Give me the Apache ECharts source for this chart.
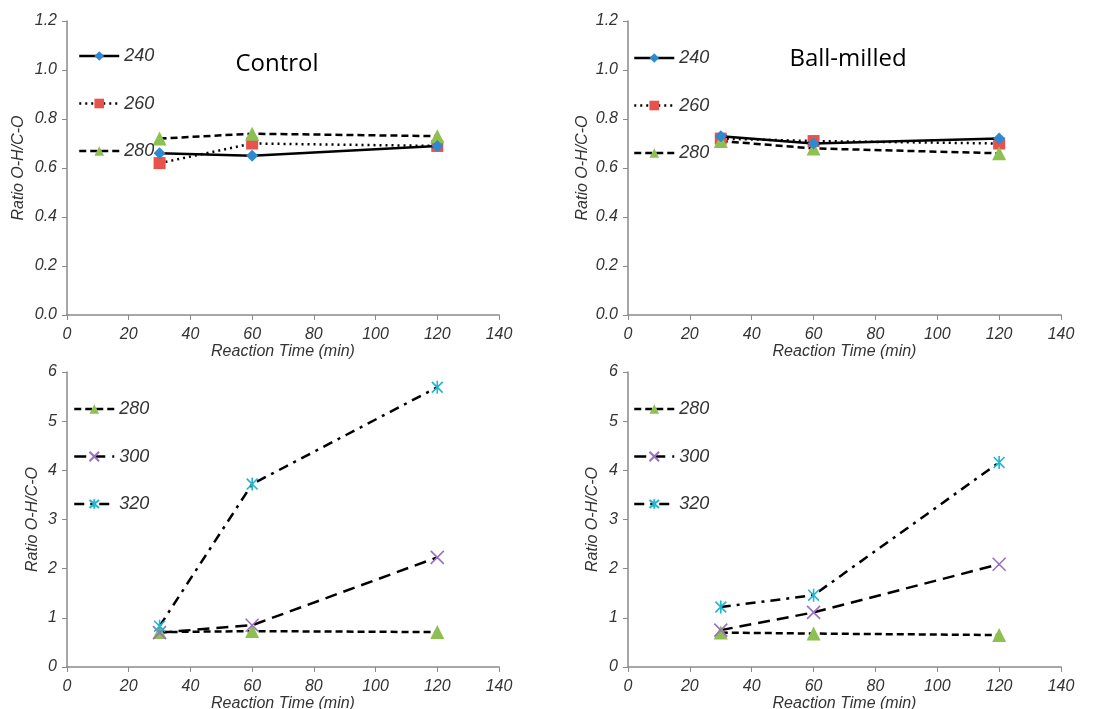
<!DOCTYPE html>
<html>
<head>
  <meta charset="utf-8">
  <title>Ratio O-H/C-O</title>
  <script src="https://cdn.jsdelivr.net/npm/echarts@6/dist/echarts.min.js"></script>
  <style>
    html, body { margin: 0; padding: 0; background: #fff; }
    #chart { width: 1114px; height: 709px; }
  </style>
</head>
<body>
<div id="chart"></div>
<script>
  // reaction times (min)
  var times = [30, 60, 120];

  // Control, top panel
  var control240 = [0.66, 0.65, 0.69];
  var control260 = [0.62, 0.70, 0.69];
  var control280 = [0.72, 0.74, 0.73];
  // Ball-milled, top panel
  var milled240 = [0.73, 0.70, 0.72];
  var milled260 = [0.72, 0.71, 0.70];
  var milled280 = [0.71, 0.68, 0.66];

  // Control, bottom panel
  var controlHi280 = [0.71, 0.73, 0.71];
  var controlHi300 = [0.70, 0.85, 2.23];
  var controlHi320 = [0.83, 3.72, 5.69];
  // Ball-milled, bottom panel
  var milledHi280 = [0.70, 0.68, 0.65];
  var milledHi300 = [0.75, 1.11, 2.09];
  var milledHi320 = [1.22, 1.46, 4.16];

  var panelTitles = ['Control', 'Ball-milled'];
  var topNames = ['240', '260', '280'];
  var bottomNames = ['280', '300', '320'];

  function pairs(vals) {
    return times.map(function (t, i) { return [t, vals[i]]; });
  }

  // series look (Excel style)
  var styles = {
    '240': { symbol: 'diamond', size: 12, color: '#2e8ad0', line: 'solid' },
    '260': { symbol: 'rect', size: 12, color: '#e8514c', line: [2, 4] },
    '280': { symbol: 'triangle', size: 14, color: '#8dc050', line: [7, 4] },
    '300': { symbol: 'path://M0,0L10,10M10,0L0,10', size: 13, color: '#9b6fc2', line: [12, 7] },
    '320': { symbol: 'path://M0,0L10,10M10,0L0,10M5,-1L5,11', size: 13, color: '#21b5d1', line: [10, 6, 3, 6] }
  };

  function mkSeries(name, vals, idx) {
    var s = styles[name];
    var open = s.symbol.indexOf('path://') === 0;
    return {
      name: name,
      type: 'line',
      xAxisIndex: idx,
      yAxisIndex: idx,
      data: pairs(vals),
      symbol: s.symbol,
      symbolSize: s.size,
      symbolKeepAspect: true,
      showAllSymbol: true,
      z: name === '240' ? 3 : 2,
      lineStyle: { color: '#000', width: 2.5, type: s.line },
      itemStyle: open
        ? { color: 'rgba(0,0,0,0)', borderColor: s.color, borderWidth: 1.6 }
        : { color: s.color, borderWidth: 0 }
    };
  }

  var grids = [
    { left: 67, top: 21, width: 432, height: 294, outerBoundsMode: 'none' },
    { left: 628, top: 21, width: 433, height: 294, outerBoundsMode: 'none' },
    { left: 67, top: 372, width: 432, height: 295, outerBoundsMode: 'none' },
    { left: 628, top: 372, width: 433, height: 295, outerBoundsMode: 'none' }
  ];

  var axisColor = '#8a8a8a';
  var textColor = '#333';
  var italic = { fontFamily: 'Liberation Sans', fontStyle: 'italic', color: textColor };

  var xAxes = grids.map(function (g, i) {
    return {
      type: 'value', gridIndex: i, min: 0, max: 140, interval: 20,
      name: 'Reaction Time (min)', nameLocation: 'middle', nameGap: i < 2 ? 27 : 28,
      nameTextStyle: Object.assign({ fontSize: 16 }, italic),
      axisLine: { lineStyle: { color: axisColor, width: 1.5 } },
      axisTick: { show: true, length: 5, lineStyle: { color: axisColor } },
      axisLabel: Object.assign({ fontSize: 16, margin: 12 }, italic),
      splitLine: { show: false }
    };
  });

  var yAxes = grids.map(function (g, i) {
    var top = i < 2;
    return {
      type: 'value', gridIndex: i, min: 0, max: top ? 1.2 : 6, interval: top ? 0.2 : 1,
      name: 'Ratio O-H/C-O', nameLocation: 'middle', nameRotate: 90,
      nameGap: [40, 37, 26, 27][i],
      nameTextStyle: Object.assign({ fontSize: 16 }, italic),
      axisLine: { show: true, lineStyle: { color: axisColor, width: 1.5 } },
      axisTick: { show: true, length: 5, lineStyle: { color: axisColor } },
      axisLabel: Object.assign({
        fontSize: 16, margin: 10,
        formatter: function (v) { return top ? v.toFixed(1) : String(v); }
      }, italic),
      splitLine: { show: false }
    };
  });

  function mkLegend(names, left, top) {
    return {
      data: names, orient: 'vertical', left: left, top: top,
      itemWidth: 40, itemHeight: 12, itemGap: 29.5,
      selectedMode: false,
      lineStyle: { width: 2.5 },
      textStyle: Object.assign({ fontSize: 18 }, italic)
    };
  }

  var option = {
    animation: false,
    backgroundColor: '#fff',
    title: [
      { text: panelTitles[0], left: 272, top: 47, textAlign: 'center',
        textStyle: { fontFamily: 'Open Sans', fontWeight: 'normal', fontSize: 24, color: '#000' } },
      { text: panelTitles[1], left: 843, top: 42, textAlign: 'center',
        textStyle: { fontFamily: 'Open Sans', fontWeight: 'normal', fontSize: 24, color: '#000' } }
    ],
    grid: grids,
    xAxis: xAxes,
    yAxis: yAxes,
    legend: [
      mkLegend(topNames, 73, 42),
      mkLegend(topNames, 628, 44),
      mkLegend(bottomNames, 68, 395),
      mkLegend(bottomNames, 628, 395)
    ],
    series: [
      mkSeries('240', control240, 0),
      mkSeries('260', control260, 0),
      mkSeries('280', control280, 0),
      mkSeries('240', milled240, 1),
      mkSeries('260', milled260, 1),
      mkSeries('280', milled280, 1),
      mkSeries('280', controlHi280, 2),
      mkSeries('300', controlHi300, 2),
      mkSeries('320', controlHi320, 2),
      mkSeries('280', milledHi280, 3),
      mkSeries('300', milledHi300, 3),
      mkSeries('320', milledHi320, 3)
    ]
  };

  var myChart = echarts.init(document.getElementById('chart'));
  myChart.setOption(option);

  window.onresize = function () {
    myChart.resize();
  };
</script>
</body>
</html>
